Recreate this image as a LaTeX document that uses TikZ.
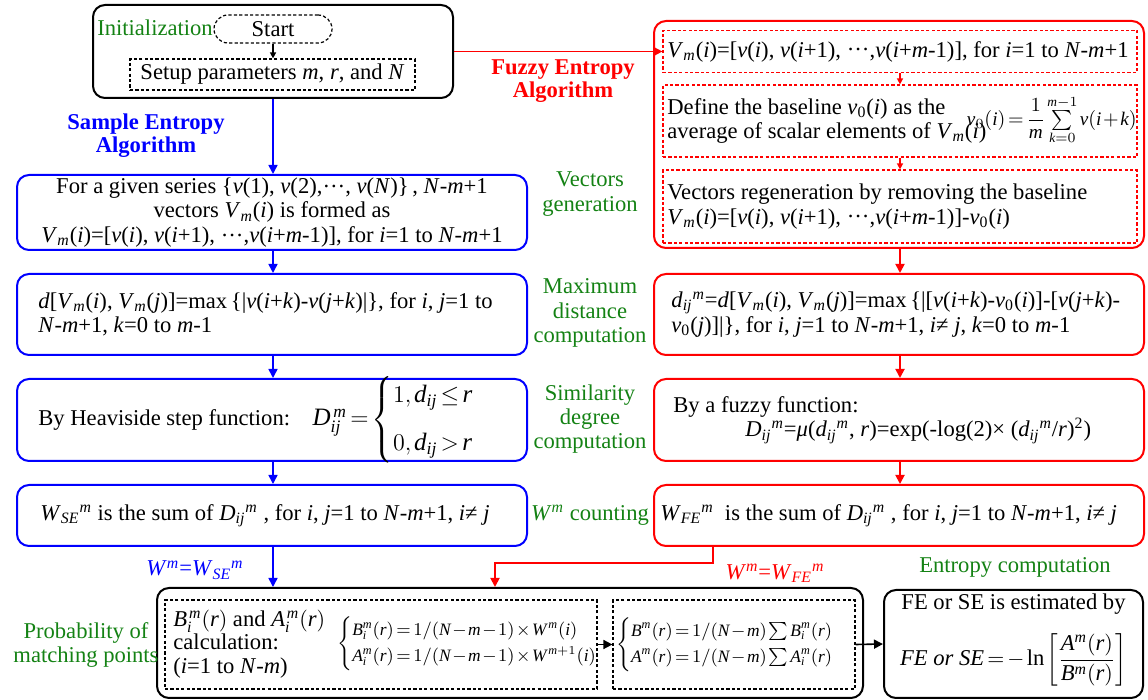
\documentclass[tikz,border=0pt]{standalone}
\usepackage{amsmath}
\usepackage{fontspec}
\setmainfont{Liberation Serif}
\usetikzlibrary{arrows.meta}
\DeclareSymbolFont{tlet}{TU}{\rmdefault}{m}{it}
\DeclareSymbolFont{operators}{TU}{\rmdefault}{m}{n}
\makeatletter
\def\mydecl#1{\DeclareMathSymbol{#1}{\mathalpha}{tlet}{`#1}}
\@tfor\x:=abcdefghijklmnopqrstuvwxyzABCDEFGHIJKLMNOPQRSTUVWXYZ\do{\expandafter\mydecl\x}
\makeatother
\thinmuskip=2mu
\medmuskip=1.5mu plus 1mu
\thickmuskip=2.5mu plus 1mu
\definecolor{myblue}{RGB}{0,0,255}
\definecolor{myred}{RGB}{255,0,0}
\definecolor{mygreen}{RGB}{20,130,20}
\newcommand\I[1]{\textit{#1}}
\newcommand\Vm{\I{V}\textsubscript{\I{m}}}
\newcommand\vz{\I{v}\textsubscript{0}}
\newcommand\Dij{\I{D}\textsubscript{\I{ij}}\textsuperscript{\I{m}}}
\newcommand\dij{\I{d}\textsubscript{\I{ij}}\textsuperscript{\I{m}}}
\newcommand\dts{\raisebox{0.28em}{\kern0.05em.\kern0.08em.\kern0.08em.\kern0.05em}}
\begin{document}
\begin{tikzpicture}[x=0.5pt,y=-0.5pt,
  every node/.append style={font=\fontsize{11.3}{12.2}\selectfont, inner sep=0pt},
  bbox/.style={draw=myblue, line width=1pt, rounded corners=6pt, minimum width=255pt},
  rbox/.style={draw=myred, line width=1pt, rounded corners=6pt, minimum width=245pt},
  kbox/.style={draw=black, line width=1pt, rounded corners=6pt},
  dbox/.style={draw, dash pattern=on 1.6pt off 1.1pt, line width=0.6pt},
  glab/.style={text=mygreen, align=center},
  txt/.style={align=left, anchor=west},
  barrow/.style={color=myblue, line width=0.8pt, -{Triangle[length=4.5pt,width=4.5pt]}},
  rarrow/.style={color=myred, line width=0.9pt, -{Triangle[length=4.5pt,width=4.5pt]}},
  rsmall/.style={color=myred, line width=0.7pt, -{Triangle[length=3pt,width=3pt]}},
  karrow/.style={color=black, line width=0.8pt, -{Triangle[length=4.5pt,width=4.5pt]}},
  ksmall/.style={color=black, line width=0.7pt, -{Triangle[length=3pt,width=3pt]}}]
\useasboundingbox (0,0) rectangle (1148,700);

% initialization
\node[kbox, minimum width=180pt, minimum height=46.5pt] (init) at (273,51.5) {};
\node[glab] (initlab) at (155,28) {Initialization};
\node[dbox, rounded corners=7pt, minimum width=59pt, minimum height=14pt] (start) at (273,29) {Start};
\node[dbox, minimum width=142.5pt, minimum height=15.5pt] (setup) at (272.5,74.5) {Setup parameters \I{m}, \I{r}, and \I{N}};
\draw[ksmall] (start.south) -- (start.south |- setup.north);

\node[text=myblue, font=\fontsize{11.3}{11.5}\selectfont\bfseries, align=center] (selab) at (146,136) {Sample Entropy\\Algorithm};
\node[text=myred, font=\fontsize{11.3}{11.5}\selectfont\bfseries, align=center] (felab) at (563,81) {Fuzzy Entropy\\Algorithm};

% fuzzy entropy top block
\node[rbox, minimum height=113.5pt] (fe) at (899,134.5) {};
\node[dbox, draw=myred, minimum width=237pt, minimum height=21pt] (d1) at (900,51.5) {};
\node[dbox, draw=myred, minimum width=237pt, minimum height=36pt] (d2) at (900,121) {};
\node[dbox, draw=myred, minimum width=237pt, minimum height=36.5pt] (d3) at (900,206.5) {};
\node[txt] (d1t) at (667,51.5) {\Vm(\I{i})=[\I{v}(\I{i}), \I{v}(\I{i}+1), \dts,\I{v}(\I{i}+\I{m}-1)], for \I{i}=1 to \I{N}-\I{m}+1};
\node[txt] (d2t) at (667,121) {Define the baseline \vz(\I{i}) as the\\average of scalar elements of \Vm(\I{i})};
\node[anchor=east, font=\fontsize{9.6}{11}\selectfont] (d2f) at (1137,120) {$v_0(i)=\dfrac{1}{m}\sum\limits_{k=0}^{m-1}v(i+k)$};
\node[txt] (d3t) at (667,206.5) {Vectors regeneration by removing the baseline\\\Vm(\I{i})=[\I{v}(\I{i}), \I{v}(\I{i}+1), \dts,\I{v}(\I{i}+\I{m}-1)]-\vz(\I{i})};
\draw[rsmall] (d1.south) -- (d2.north);
\draw[rsmall] (d2.south) -- (d3.north);
\draw[rarrow] (init.east) -- (d1.west);

% sample entropy column
\node[bbox, minimum height=37.5pt] (b1) at (272,212.5) {};
\node[align=center] (b1t) at (272,212.5) {For a given series \{\I{v}(1), \I{v}(2),\dts, \I{v}(\I{N})\}\,, \I{N}-\I{m}+1\\vectors \Vm(\I{i}) is formed as\\\Vm(\I{i})=[\I{v}(\I{i}), \I{v}(\I{i}+1), \dts,\I{v}(\I{i}+\I{m}-1)], for \I{i}=1 to \I{N}-\I{m}+1};
\node[bbox, minimum height=40.5pt] (b2) at (272,314.5) {};
\node[txt] (b2t) at (38,314.5) {\I{d}[\Vm(\I{i}), \Vm(\I{j})]=max\,\{|\I{v}(\I{i}+\I{k})-\I{v}(\I{j}+\I{k})|\}, for \I{i}, \I{j}=1 to\\\I{N}-\I{m}+1, \I{k}=0 to \I{m}-1};
\node[bbox, minimum height=41pt] (b3) at (272,420) {};
\node[txt] (b3t) at (38,420) {By Heaviside step function:\quad{\fontsize{12.5}{14}\selectfont$D_{ij}^{\;m}=\begin{cases}1, d_{ij}\le r\\[7pt]0, d_{ij}>r\end{cases}$}};
\node[bbox, minimum height=30.5pt] (b4) at (272,515.5) {};
\node[txt] (b4t) at (40,515.5) {\I{W}\textsubscript{\I{SE}}\textsuperscript{\I{m}} is the sum of \Dij\ , for \I{i}, \I{j}=1 to \I{N}-\I{m}+1, \I{i}≠ \I{j}};
\draw[barrow] (init.south) -- (b1.north -| init.south);
\draw[barrow] (b1.south -| init.south) -- (b2.north -| init.south);
\draw[barrow] (b2.south -| init.south) -- (b3.north -| init.south);
\draw[barrow] (b3.south -| init.south) -- (b4.north -| init.south);

% fuzzy entropy column
\node[rbox, minimum height=40.5pt] (r2) at (899,314.5) {};
\node[txt] (r2t) at (671,314.5) {\dij=\I{d}[\Vm(\I{i}), \Vm(\I{j})]=max\,\{|[\I{v}(\I{i}+\I{k})-\vz(\I{i})]-[\I{v}(\I{j}+\I{k})-\\\vz(\I{j})]|\}, for \I{i}, \I{j}=1 to \I{N}-\I{m}+1, \I{i}≠ \I{j}, \I{k}=0 to \I{m}-1};
\node[rbox, minimum height=41pt] (r3) at (899,420) {};
\node[txt] (r3t) at (673,420) {By a fuzzy function:\\\hspace*{36pt}\Dij=\I{μ}(\dij, \I{r})=exp(-log(2)× (\dij/\I{r})\textsuperscript{2})};
\node[rbox, minimum height=30.5pt] (r4) at (899,515.5) {};
\node[txt] (r4t) at (660,515.5) {\I{W}\textsubscript{\I{FE}}\textsuperscript{\I{m}}\ \ is the sum of \Dij\ , for \I{i}, \I{j}=1 to \I{N}-\I{m}+1, \I{i}≠ \I{j}};
\draw[rarrow] (fe.south -| d1.south) -- (r2.north -| d1.south);
\draw[rarrow] (r2.south -| d1.south) -- (r3.north -| d1.south);
\draw[rarrow] (r3.south -| d1.south) -- (r4.north -| d1.south);

% green stage labels
\node[glab] (g1) at (590,194) {Vectors\\generation};
\node[glab] (g2) at (590,313) {Maximum\\distance\\computation};
\node[glab] (g3) at (590,419) {Similarity\\degree\\computation};
\node[glab] (g4) at (590,515) {\I{W}\textsuperscript{\I{m}} counting};

% bottom
\node[kbox, minimum width=353pt, minimum height=55pt] (big) at (510,643) {};
\node[dbox, minimum width=216pt, minimum height=44.5pt] (da) at (381,644.5) {};
\node[txt, font=\fontsize{11.3}{11.8}\selectfont] (dat) at (173,644) {$B_i^{\,m}(r)$ and $A_i^{\,m}(r)$\\calculation:\\(\I{i}=1 to \I{N}-\I{m})};
\node[txt, font=\fontsize{8.7}{10}\selectfont] (daf) at (337,644) {$\begin{cases}B_i^m(r)=1/(N-m-1)\times W^{\,m}(i)\\[1pt]A_i^m(r)=1/(N-m-1)\times W^{\,m+1}(i)\end{cases}$};
\node[dbox, minimum width=121pt, minimum height=44.5pt] (db) at (734,644.5) {};
\node[font=\fontsize{8.7}{10}\selectfont] (dbf) at (734,644.5) {$\begin{cases}B^m(r)=1/(N-m)\sum B_i^m(r)\\[1pt]A^m(r)=1/(N-m)\sum A_i^m(r)\end{cases}$};
\node[kbox, minimum width=129.5pt, minimum height=54pt] (ent) at (1013.5,644) {};
\node (entt1) at (1013.5,604) {FE or SE is estimated by};
\node (entt2) at (1013.5,660) {$FE\ or\ SE=-\ln\left[\dfrac{A^m(r)}{B^m(r)}\right]$};
\draw[karrow] (da.east) -- (db.west);
\draw[karrow] (db.east) -- (ent.west);

\node[glab] (plab) at (86,645) {Probability of\\matching points};
\node[text=myblue] (wse) at (195,570) {\I{W}\textsuperscript{\I{m}}=\I{W}\textsubscript{\I{SE}}\textsuperscript{\I{m}}};
\node[text=myred] (wfe) at (775,573) {\I{W}\textsuperscript{\I{m}}=\I{W}\textsubscript{\I{FE}}\textsuperscript{\I{m}}};
\node[glab] (entlab) at (1015,567) {Entropy computation};

\draw[barrow] (b4.south -| init.south) -- (big.north -| init.south);
\coordinate (rturn) at (713,563);
\coordinate (rdrop) at (495,563);
\draw[rarrow] (rturn |- r4.south) -- (rturn) -- (rdrop) -- (rdrop |- big.north);
\end{tikzpicture}
\end{document}
